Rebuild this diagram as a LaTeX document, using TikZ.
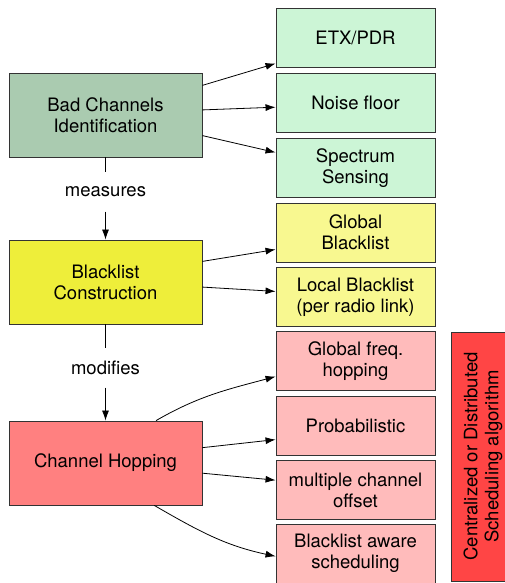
\documentclass[tikz,border=0pt]{standalone}
\usepackage{fontspec}
\setmainfont{TeX Gyre Heros}
\usetikzlibrary{arrows.meta}
\definecolor{badDark}{HTML}{AACBB0}
\definecolor{badLight}{HTML}{CCF5D6}
\definecolor{blkDark}{HTML}{EEEE3A}
\definecolor{blkLight}{HTML}{F8F890}
\definecolor{hopDark}{HTML}{FF8080}
\definecolor{hopLight}{HTML}{FFBBBB}
\definecolor{schedRed}{HTML}{FF4545}
\tikzset{
  box/.style={rectangle, draw=black!80, line width=0.9pt, align=center,
              font=\fontsize{18.5}{21}\selectfont, inner sep=2pt},
  mainbox/.style={box, minimum width=193pt, minimum height=84pt},
  subbox/.style={box, minimum width=159pt, minimum height=59pt},
  verb/.style={font=\fontsize{18.5}{21}\selectfont, minimum height=39pt, inner sep=0pt},
  link/.style={-{Latex[length=10pt,width=7pt]}, line width=0.8pt}
}
\begin{document}
\begin{tikzpicture}[x=1pt, y=1pt]
\useasboundingbox (0,0) rectangle (504,-583);

\node[mainbox, fill=badDark] (bad) at (105.5,-115) {Bad Channels\\Identification};
\node[mainbox, fill=blkDark] (blk) at (105.5,-282) {Blacklist\\Construction};
\node[mainbox, fill=hopDark] (hop) at (105.5,-463) {Channel Hopping};

\node[verb] (meas) at (105.5,-192) {measures};
\node[verb] (mod) at (105.5,-368) {modifies};

\node[subbox, fill=badLight] (etx) at (355.5,-37.5) {ETX/PDR};
\node[subbox, fill=badLight] (noise) at (355.5,-103) {Noise floor};
\node[subbox, fill=badLight] (spec) at (355.5,-168) {Spectrum\\Sensing};
\node[subbox, fill=blkLight] (gbl) at (355.5,-232.5) {Global\\Blacklist};
\node[subbox, fill=blkLight] (lbl) at (355.5,-297) {Local Blacklist\\(per radio link)};
\node[subbox, fill=hopLight] (gfh) at (355.5,-361) {Global freq.\\hopping};
\node[subbox, fill=hopLight] (prob) at (355.5,-425.5) {Probabilistic};
\node[subbox, fill=hopLight] (mco) at (355.5,-490) {multiple channel\\offset};
\node[subbox, fill=hopLight] (bas) at (355.5,-553.5) {Blacklist aware\\scheduling};

\node[box, fill=schedRed, rotate=90, minimum width=249pt, minimum height=80pt,
      text depth=20pt]
  (sched) at (491,-456.5) {Centralized or Distributed\\Scheduling algorithm};

\draw[line width=0.8pt] (bad) -- (meas);
\draw[link] (meas) -- (blk);
\draw[line width=0.8pt] (blk) -- (mod);
\draw[link] (mod) -- (hop);

\draw[link] (bad.17) -- (etx.198);
\draw[link] (bad.3) -- (noise.183);
\draw[link] (bad.-12) -- (spec.169);

\draw[link] (blk.12) -- (gbl.192);
\draw[link] (blk.-3.5) -- (lbl.176);

\draw[link] (hop.40) to[out=30, in=195] (gfh.191);
\draw[link] (hop.9) -- (prob.190);
\draw[link] (hop.-6) -- (mco.173);
\draw[link] (hop.-41.5) to[out=-30, in=168] (bas.182);
\end{tikzpicture}
\end{document}
